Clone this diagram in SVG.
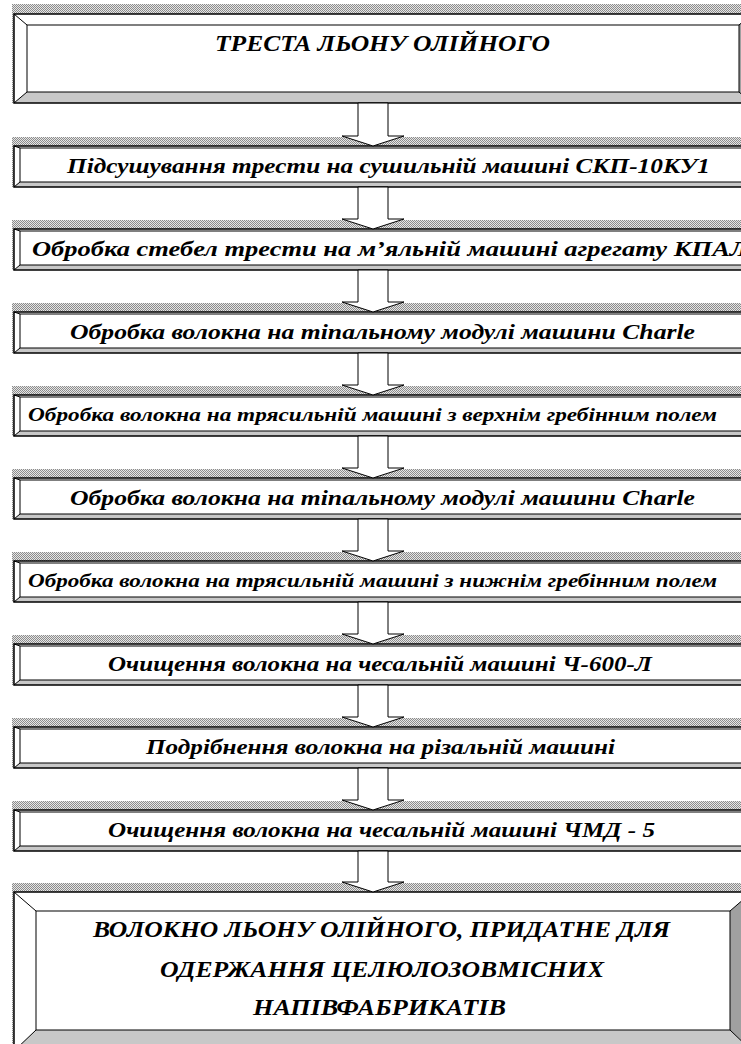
<svg xmlns="http://www.w3.org/2000/svg" width="741" height="1044" viewBox="0 0 741 1044">
<defs>
<pattern id="dots" width="2" height="2" patternUnits="userSpaceOnUse">
<rect width="2" height="2" fill="#e6e6e6"/>
<rect width="1" height="1" fill="#8c8c8c"/>
<rect x="1" y="1" width="1" height="1" fill="#8c8c8c"/>
</pattern>
</defs>
<style>
.band{fill:url(#dots)}
.lt{fill:#fff}
.dk{fill:#c8c8c8}
.dk2{fill:#a0a0a0}
.ln{fill:none;stroke:#000;stroke-width:1}
.ol{fill:none;stroke:#000;stroke-width:1.5}
.ar{fill:#fff;stroke:#000;stroke-width:1}
.t{font-family:'Liberation Serif','DejaVu Serif',serif;font-weight:bold;font-style:italic;fill:#000}
</style>
<rect width="741" height="1044" fill="#fff"/>

<g id="n1">
<rect class="band" x="12" y="4" width="729" height="10"/>
<rect class="band" x="12" y="14" width="2" height="89"/>
<polygon class="lt" points="14,14 752,14 739,25 27,25"/>
<polygon class="lt" points="14,14 27,25 27,92 14,103"/>
<polygon class="dk" points="14,103 27,92 739,92 752,103"/>
<polygon class="dk2" points="752,14 752,103 739,92 739,25"/>
<rect class="ln" x="27" y="25" width="712" height="67"/>
<rect class="ol" x="14" y="14" width="738" height="89"/>
<path class="ln" d="M14,14L27,25M14,103L27,92M752,103L739,92M752,14L739,25"/>
<text class="t" x="215" y="51" font-size="24" textLength="335" lengthAdjust="spacingAndGlyphs">ТРЕСТА ЛЬОНУ ОЛІЙНОГО</text>
</g>

<g id="n2">
<rect class="band" x="12" y="137" width="729" height="9"/>
<rect class="band" x="12" y="146" width="2" height="41"/>
<polygon class="lt" points="14,146 752,146 746,148 20,148"/>
<polygon class="lt" points="14,146 20,148 20,182 14,187"/>
<polygon class="dk" points="14,187 20,182 746,182 752,187"/>
<rect class="ln" x="20" y="148" width="726" height="34"/>
<rect class="ol" x="14" y="146" width="738" height="41"/>
<path class="ln" d="M14,146L20,148M14,187L20,182"/>
<text class="t" x="67" y="173" font-size="22" textLength="643" lengthAdjust="spacingAndGlyphs">Підсушування  трести на сушильній машині СКП-10КУ1</text>
</g>

<g id="n3">
<rect class="band" x="12" y="220" width="729" height="9"/>
<rect class="band" x="12" y="229" width="2" height="41"/>
<polygon class="lt" points="14,229 752,229 746,231 20,231"/>
<polygon class="lt" points="14,229 20,231 20,265 14,270"/>
<polygon class="dk" points="14,270 20,265 746,265 752,270"/>
<rect class="ln" x="20" y="231" width="726" height="34"/>
<rect class="ol" x="14" y="229" width="738" height="41"/>
<path class="ln" d="M14,229L20,231M14,270L20,265"/>
<text class="t" x="32" y="256" font-size="21" textLength="716" lengthAdjust="spacingAndGlyphs">Обробка стебел трести на м’яльній машині  агрегату КПАЛ</text>
</g>

<g id="n4">
<rect class="band" x="12" y="303" width="729" height="9"/>
<rect class="band" x="12" y="312" width="2" height="41"/>
<polygon class="lt" points="14,312 752,312 746,314 20,314"/>
<polygon class="lt" points="14,312 20,314 20,348 14,353"/>
<polygon class="dk" points="14,353 20,348 746,348 752,353"/>
<rect class="ln" x="20" y="314" width="726" height="34"/>
<rect class="ol" x="14" y="312" width="738" height="41"/>
<path class="ln" d="M14,312L20,314M14,353L20,348"/>
<text class="t" x="70" y="339" font-size="21" textLength="625" lengthAdjust="spacingAndGlyphs">Обробка волокна на тіпальному модулі машини Charle</text>
</g>

<g id="n5">
<rect class="band" x="12" y="386" width="729" height="9"/>
<rect class="band" x="12" y="395" width="2" height="41"/>
<polygon class="lt" points="14,395 752,395 746,397 20,397"/>
<polygon class="lt" points="14,395 20,397 20,431 14,436"/>
<polygon class="dk" points="14,436 20,431 746,431 752,436"/>
<rect class="ln" x="20" y="397" width="726" height="34"/>
<rect class="ol" x="14" y="395" width="738" height="41"/>
<path class="ln" d="M14,395L20,397M14,436L20,431"/>
<text class="t" x="28" y="421" font-size="18" textLength="689" lengthAdjust="spacingAndGlyphs">Обробка волокна на трясильній машині з верхнім гребінним полем</text>
</g>

<g id="n6">
<rect class="band" x="12" y="469" width="729" height="9"/>
<rect class="band" x="12" y="478" width="2" height="41"/>
<polygon class="lt" points="14,478 752,478 746,480 20,480"/>
<polygon class="lt" points="14,478 20,480 20,514 14,519"/>
<polygon class="dk" points="14,519 20,514 746,514 752,519"/>
<rect class="ln" x="20" y="480" width="726" height="34"/>
<rect class="ol" x="14" y="478" width="738" height="41"/>
<path class="ln" d="M14,478L20,480M14,519L20,514"/>
<text class="t" x="70" y="505" font-size="21" textLength="625" lengthAdjust="spacingAndGlyphs">Обробка волокна на тіпальному модулі машини Charle</text>
</g>

<g id="n7">
<rect class="band" x="12" y="552" width="729" height="9"/>
<rect class="band" x="12" y="561" width="2" height="41"/>
<polygon class="lt" points="14,561 752,561 746,563 20,563"/>
<polygon class="lt" points="14,561 20,563 20,597 14,602"/>
<polygon class="dk" points="14,602 20,597 746,597 752,602"/>
<rect class="ln" x="20" y="563" width="726" height="34"/>
<rect class="ol" x="14" y="561" width="738" height="41"/>
<path class="ln" d="M14,561L20,563M14,602L20,597"/>
<text class="t" x="28" y="587" font-size="18" textLength="689" lengthAdjust="spacingAndGlyphs">Обробка волокна на трясильній машині з нижнім гребінним полем</text>
</g>

<g id="n8">
<rect class="band" x="12" y="635" width="729" height="9"/>
<rect class="band" x="12" y="644" width="2" height="41"/>
<polygon class="lt" points="14,644 752,644 746,646 20,646"/>
<polygon class="lt" points="14,644 20,646 20,680 14,685"/>
<polygon class="dk" points="14,685 20,680 746,680 752,685"/>
<rect class="ln" x="20" y="646" width="726" height="34"/>
<rect class="ol" x="14" y="644" width="738" height="41"/>
<path class="ln" d="M14,644L20,646M14,685L20,680"/>
<text class="t" x="108" y="671" font-size="21" textLength="544" lengthAdjust="spacingAndGlyphs">Очищення волокна на чесальній машині Ч-600-Л</text>
</g>

<g id="n9">
<rect class="band" x="12" y="718" width="729" height="9"/>
<rect class="band" x="12" y="727" width="2" height="41"/>
<polygon class="lt" points="14,727 752,727 746,729 20,729"/>
<polygon class="lt" points="14,727 20,729 20,763 14,768"/>
<polygon class="dk" points="14,768 20,763 746,763 752,768"/>
<rect class="ln" x="20" y="729" width="726" height="34"/>
<rect class="ol" x="14" y="727" width="738" height="41"/>
<path class="ln" d="M14,727L20,729M14,768L20,763"/>
<text class="t" x="146" y="754" font-size="21" textLength="469" lengthAdjust="spacingAndGlyphs">Подрібнення волокна на різальній машині</text>
</g>

<g id="n10">
<rect class="band" x="12" y="801" width="729" height="9"/>
<rect class="band" x="12" y="810" width="2" height="41"/>
<polygon class="lt" points="14,810 752,810 746,812 20,812"/>
<polygon class="lt" points="14,810 20,812 20,846 14,851"/>
<polygon class="dk" points="14,851 20,846 746,846 752,851"/>
<rect class="ln" x="20" y="812" width="726" height="34"/>
<rect class="ol" x="14" y="810" width="738" height="41"/>
<path class="ln" d="M14,810L20,812M14,851L20,846"/>
<text class="t" x="108" y="837" font-size="21" textLength="547" lengthAdjust="spacingAndGlyphs">Очищення волокна на чесальній  машині ЧМД - 5</text>
</g>

<g id="n11">
<rect class="band" x="12" y="883" width="729" height="9"/>
<rect class="band" x="12" y="892" width="2" height="159"/>
<polygon class="lt" points="14,892 752,892 730,911 36,911"/>
<polygon class="lt" points="14,892 36,911 36,1030 14,1051"/>
<polygon class="dk" points="14,1051 36,1030 730,1030 752,1051"/>
<polygon class="dk2" points="752,892 752,1051 730,1030 730,911"/>
<rect class="ln" x="36" y="911" width="694" height="119"/>
<rect class="ol" x="14" y="892" width="738" height="159"/>
<path class="ln" d="M14,892L36,911M14,1051L36,1030M752,1051L730,1030M752,892L730,911"/>
<text class="t" x="93" y="937" font-size="24" textLength="577" lengthAdjust="spacingAndGlyphs">ВОЛОКНО ЛЬОНУ ОЛІЙНОГО, ПРИДАТНЕ ДЛЯ</text>
<text class="t" x="160" y="977" font-size="24" textLength="444" lengthAdjust="spacingAndGlyphs">ОДЕРЖАННЯ ЦЕЛЮЛОЗОВМІСНИХ</text>
<text class="t" x="253" y="1015" font-size="24" textLength="253" lengthAdjust="spacingAndGlyphs">НАПІВФАБРИКАТІВ</text>
</g>

<g id="connectors">
<path class="ar" d="M358,103V136H342L373,146L404,136H388V103Z"/>
<path class="ar" d="M358,187V219H342L373,229L404,219H388V187Z"/>
<path class="ar" d="M358,270V302H342L373,312L404,302H388V270Z"/>
<path class="ar" d="M358,353V385H342L373,395L404,385H388V353Z"/>
<path class="ar" d="M358,436V468H342L373,478L404,468H388V436Z"/>
<path class="ar" d="M358,519V551H342L373,561L404,551H388V519Z"/>
<path class="ar" d="M358,602V634H342L373,644L404,634H388V602Z"/>
<path class="ar" d="M358,685V717H342L373,727L404,717H388V685Z"/>
<path class="ar" d="M358,768V800H342L373,810L404,800H388V768Z"/>
<path class="ar" d="M358,851V882H342L373,892L404,882H388V851Z"/>
</g>
</svg>
